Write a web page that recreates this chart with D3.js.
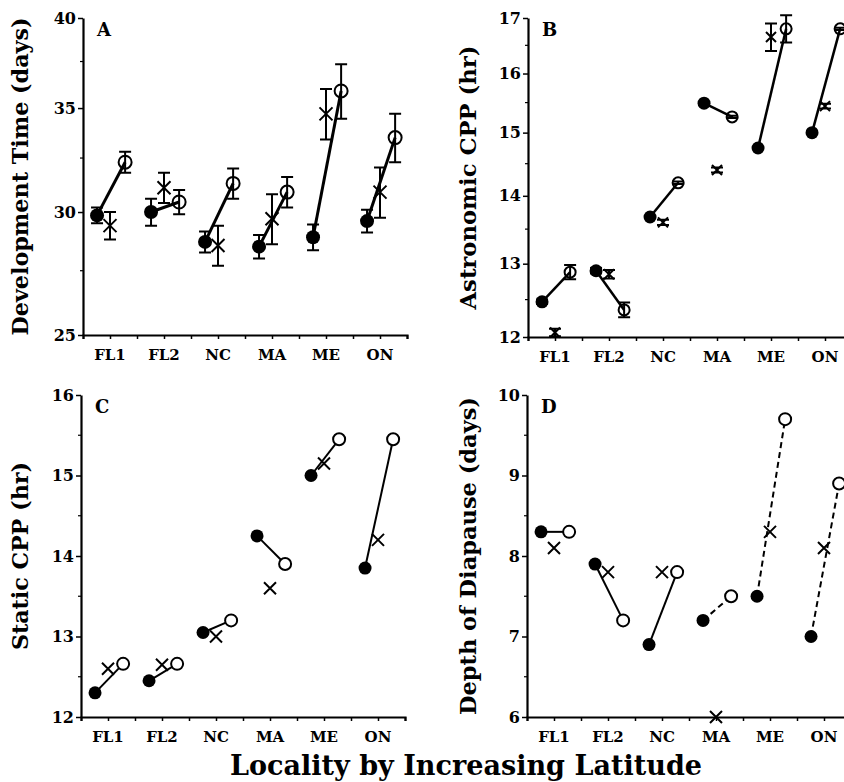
<!DOCTYPE html>
<html>
<head>
<meta charset="utf-8">
<script src="https://cdn.jsdelivr.net/npm/d3@7"></script>
<style>
  body { margin: 0; background: #fff; }
  svg { display: block; font-family: 'DejaVu Serif', serif; font-weight: bold; }
</style>
</head>
<body>
<div id="chart"></div>
<script>
// ── Data ─────────────────────────────────────────────────────────────────
const sites = ['FL1', 'FL2', 'NC', 'MA', 'ME', 'ON'];

// A: development time (days), log axis
const devFilled    = [29.85, 30.0, 28.7, 28.5, 28.9, 29.6];
const devFilledErr = [0.35, 0.6, 0.45, 0.5, 0.55, 0.5];
const devCross     = [29.4, 31.1, 28.55, 29.7, 34.7, 30.9];
const devCrossErr  = [0.6, 0.7, 0.85, 1.1, 1.3, 1.15];
const devOpen      = [32.3, 30.45, 31.3, 30.9, 35.9, 33.5];
const devOpenErr   = [0.5, 0.55, 0.7, 0.7, 1.45, 1.2];
const devTicks     = [25, 30, 35, 40];

// B: astronomic CPP (hr), log axis
const astFilled    = [12.47, 12.9, 13.68, 15.49, 14.75, 15.0];
const astFilledErr = [0.03, 0.04, 0, 0, 0, 0];
const astCross     = [12.06, 12.85, 13.6, 14.4, 16.65, 15.44];
const astCrossErr  = [0.05, 0.06, 0.04, 0.04, 0.25, 0.04];
const astOpen      = [12.88, 12.36, 14.2, 15.26, 16.8, 16.8];
const astOpenErr   = [0.1, 0.1, 0.02, 0.02, 0.25, 0.02];
const astTicks     = [12, 13, 14, 15, 16, 17];

// C: static CPP (hr)
const statFilled   = [12.3, 12.45, 13.05, 14.25, 15.0, 13.85];
const statCross    = [12.6, 12.65, 13.0, 13.6, 15.15, 14.2];
const statOpen     = [12.66, 12.66, 13.2, 13.9, 15.45, 15.45];
const statTicks    = [12, 13, 14, 15, 16];

// D: depth of diapause (days)
const depFilled    = [8.3, 7.9, 6.9, 7.2, 7.5, 7.0];
const depCross     = [8.1, 7.8, 7.8, 6.0, 8.3, 8.1];
const depOpen      = [8.3, 7.2, 7.8, 7.5, 9.7, 8.9];
const depDashed    = [false, false, false, true, true, true];
const depTicks     = [6, 7, 8, 9, 10];

// ── Layout ───────────────────────────────────────────────────────────────
const W = 844, H = 782;
const plotW = 324;
const serif = "'DejaVu Serif', serif";

const panels = [
  { letter: 'A', title: 'Development Time (days)', log: true, domain: [25, 40], ticks: devTicks,
    filled: devFilled, filledErr: devFilledErr, cross: devCross, crossErr: devCrossErr,
    open: devOpen, openErr: devOpenErr,
    left: 83, top: 18, bottom: 335, rF: 7, rO: 6.5, cx: 6.5, lw: 3, titleX: 20, titleLen: 318 },
  { letter: 'B', title: 'Astronomic CPP (hr)', log: true, domain: [12, 17], ticks: astTicks,
    filled: astFilled, filledErr: astFilledErr, cross: astCross, crossErr: astCrossErr,
    open: astOpen, openErr: astOpenErr,
    left: 528, top: 18, bottom: 337, rF: 6.5, rO: 5.5, cx: 5, lw: 2.5, titleX: 468, titleLen: 264 },
  { letter: 'C', title: 'Static CPP (hr)', log: false, domain: [12, 16], ticks: statTicks,
    filled: statFilled, cross: statCross, open: statOpen,
    left: 81, top: 395, bottom: 717, rF: 6.5, rO: 6, cx: 6, lw: 2, titleX: 20, titleLen: 188 },
  { letter: 'D', title: 'Depth of Diapause (days)', log: false, domain: [6, 10], ticks: depTicks,
    filled: depFilled, cross: depCross, open: depOpen, dashed: depDashed,
    left: 527, top: 395, bottom: 717, rF: 6.5, rO: 6, cx: 6, lw: 2, titleX: 468, titleLen: 318 }
];

const svg = d3.select('#chart').append('svg')
  .attr('width', W).attr('height', H);
svg.append('rect').attr('width', W).attr('height', H).attr('fill', '#fff');

panels.forEach(drawPanel);

// Shared x title
svg.append('text')
  .attr('x', 466).attr('y', 775)
  .attr('text-anchor', 'middle')
  .attr('font-size', 28)
  .attr('textLength', 472)
  .attr('lengthAdjust', 'spacingAndGlyphs')
  .text('Locality by Increasing Latitude');

function drawPanel(p) {
  const g = svg.append('g').attr('transform', `translate(${p.left},0)`);

  // x in half-category units: categories sit at 1, 3, 5, ... 11
  const x = d3.scaleLinear().domain([0, 12]).range([0, plotW]);
  const y = (p.log ? d3.scaleLog() : d3.scaleLinear())
    .domain(p.domain).range([p.bottom, p.top]);

  const pos = (i, off) => x(2 * i + 1 + off);
  const offF = -0.48, offO = 0.56;

  // Axes
  const xAxis = d3.axisBottom(x).tickValues(d3.range(0, 13)).tickSize(4).tickFormat('');
  const xg = g.append('g').attr('transform', `translate(0,${p.bottom})`).call(xAxis);
  xg.select('.domain').attr('stroke-width', 2.2);
  xg.selectAll('.tick line').attr('stroke-width', 1.5);

  xg.selectAll('.cat').data(sites).enter().append('text')
    .attr('class', 'cat')
    .attr('x', (d, i) => pos(i, 0))
    .attr('y', 25)
    .attr('text-anchor', 'middle')
    .attr('font-family', serif).attr('font-weight', 'bold')
    .attr('font-size', 15)
    .attr('fill', '#000')
    .text(d => d);

  const yAxis = d3.axisLeft(y).tickValues(p.ticks).tickSize(5).tickSizeOuter(0)
    .tickFormat(d3.format('d'));
  const yg = g.append('g').call(yAxis);
  yg.select('.domain').attr('stroke-width', 2.2);
  yg.selectAll('.tick line').attr('stroke-width', 1.5);
  yg.selectAll('.tick text').attr('font-size', 16).attr('x', -7)
    .attr('font-family', serif).attr('font-weight', 'bold');

  // minor ticks half-way between labelled values
  const minors = d3.pairs(p.ticks).map(([a, b]) => (a + b) / 2);
  g.selectAll('.minor').data(minors).enter().append('line')
    .attr('x1', -3).attr('x2', 0)
    .attr('y1', d => y(d)).attr('y2', d => y(d))
    .attr('stroke', '#000').attr('stroke-width', 1.2);

  // Panel letter
  g.append('text')
    .attr('x', 14).attr('y', p.top + 18)
    .attr('font-size', 18)
    .text(p.letter);

  // Y title
  svg.append('text')
    .attr('transform', `translate(${p.titleX},${(p.top + p.bottom) / 2}) rotate(-90)`)
    .attr('text-anchor', 'middle')
    .attr('dy', '0.35em')
    .attr('font-size', 22)
    .attr('textLength', p.titleLen)
    .attr('lengthAdjust', 'spacingAndGlyphs')
    .text(p.title);

  // Connecting lines: filled -> open
  g.selectAll('.link').data(sites).enter().append('line')
    .attr('x1', (d, i) => pos(i, offF)).attr('y1', (d, i) => y(p.filled[i]))
    .attr('x2', (d, i) => pos(i, offO)).attr('y2', (d, i) => y(p.open[i]))
    .attr('stroke', '#000').attr('stroke-width', p.lw)
    .attr('stroke-dasharray', (d, i) => p.dashed && p.dashed[i] ? '6,4' : null);

  // Markers
  g.selectAll('.filled').data(p.filled).enter().append('circle')
    .attr('cx', (d, i) => pos(i, offF)).attr('cy', d => y(d))
    .attr('r', p.rF).attr('fill', '#000');

  g.selectAll('.open').data(p.open).enter().append('circle')
    .attr('cx', (d, i) => pos(i, offO)).attr('cy', d => y(d))
    .attr('r', p.rO).attr('fill', p.log ? 'none' : '#fff')
    .attr('stroke', '#000').attr('stroke-width', 2);

  g.selectAll('.cross').data(p.cross).enter().append('path')
    .attr('d', (d, i) => {
      const cx = pos(i, 0), cy = y(d), s = p.cx;
      return `M${cx - s},${cy - s}L${cx + s},${cy + s}M${cx - s},${cy + s}L${cx + s},${cy - s}`;
    })
    .attr('fill', 'none').attr('stroke', '#000').attr('stroke-width', 2);

  // Error bars
  const bars = [];
  if (p.filledErr) p.filled.forEach((v, i) => bars.push({ x: pos(i, offF), v, e: p.filledErr[i] }));
  if (p.crossErr) p.cross.forEach((v, i) => bars.push({ x: pos(i, 0), v, e: p.crossErr[i] }));
  if (p.openErr) p.open.forEach((v, i) => bars.push({ x: pos(i, offO), v, e: p.openErr[i] }));
  const cap = 6;
  g.selectAll('.err').data(bars.filter(b => b.e > 0)).enter().append('path')
    .attr('d', b => {
      const y1 = y(b.v + b.e), y0 = y(b.v - b.e);
      return `M${b.x},${y1}L${b.x},${y0}M${b.x - cap},${y1}L${b.x + cap},${y1}M${b.x - cap},${y0}L${b.x + cap},${y0}`;
    })
    .attr('fill', 'none').attr('stroke', '#000').attr('stroke-width', 2);
}
</script>
</body>
</html>
